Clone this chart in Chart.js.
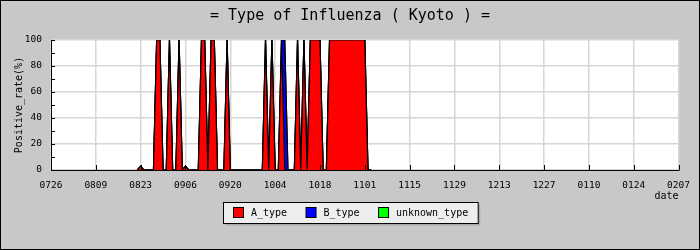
<!DOCTYPE html>
<html lang="ja">
<head>
    <meta charset="UTF-8">
    <title>Type of Influenza (Kyoto)</title>
    <script src="https://cdn.jsdelivr.net/npm/chart.js"></script>
    <style>
        body { margin: 0; background: #c8c8c8; }
        canvas { display: block; }
    </style>
</head>
<body>
    <canvas id="fluChart" width="700" height="250"></canvas>

    <script>
        // x axis tick labels (every 14 days from 0726)
        const tickLabels = ['0726', '0809', '0823', '0906', '0920', '1004', '1018', '1101',
                            '1115', '1129', '1213', '1227', '0110', '0124', '0207'];
        const axisStart = '0726';
        const firstDate = '0822';   // date of the first value below, one value per day

        // Positive rate (%) per day, from 0822 to 1103
        const aType = [
            0, 3, 0, 0, 0, 0, 100, 100, 0, 0,
            100, 0, 0, 100, 0, 3, 0, 0, 0, 0,
            100, 100, 0, 100, 100, 0, 0, 0, 100, 0,
            0, 0, 0, 0, 0, 0, 0, 0, 0, 0,
            100, 0, 100, 0, 0, 100, 0, 0, 0, 0,
            100, 0, 100, 0, 100, 100, 100, 100, 0, 0,
            100, 100, 100, 100, 100, 100, 100, 100, 100, 100,
            100, 100, 0, 0
        ];
        const bType = [
            0, 0, 0, 0, 0, 0, 0, 0, 0, 0,
            0, 0, 0, 0, 0, 0, 0, 0, 0, 0,
            0, 0, 0, 0, 0, 0, 0, 0, 0, 0,
            0, 0, 0, 0, 0, 0, 0, 0, 0, 0,
            0, 0, 0, 0, 0, 0, 100, 0, 0, 0,
            0, 0, 0, 0, 0, 0, 0, 0, 0, 0,
            0, 0, 0, 0, 0, 0, 0, 0, 0, 0,
            0, 0, 0, 0
        ];
        const unknownType = [
            0, 0, 0, 0, 0, 0, 0, 0, 0, 0,
            0, 0, 0, 0, 0, 0, 0, 0, 0, 0,
            0, 0, 0, 0, 0, 0, 0, 0, 0, 0,
            0, 0, 0, 0, 0, 0, 0, 0, 0, 0,
            0, 0, 0, 0, 0, 0, 0, 0, 0, 0,
            0, 0, 0, 0, 0, 0, 0, 0, 0, 0,
            0, 0, 0, 0, 0, 0, 0, 0, 0, 0,
            0, 0, 0, 0
        ];

        const FONT = '"DejaVu Sans Mono", monospace';

        // days between two MMDD dates (same season)
        function mmddToDate(s) {
            const m = parseInt(s.slice(0, 2), 10) - 1;
            const d = parseInt(s.slice(2), 10);
            return new Date(Date.UTC(m < 6 ? 2012 : 2011, m, d));
        }
        const offset = Math.round((mmddToDate(firstDate) - mmddToDate(axisStart)) / 864e5);
        const toPoints = arr => arr.map((v, i) => ({ x: offset + i, y: v }));

        // background, title, axis titles, inner ticks, legend box
        const decorations = {
            id: 'decorations',
            beforeDraw(chart) {
                const ctx = chart.ctx;
                ctx.save();
                ctx.fillStyle = '#c8c8c8';
                ctx.fillRect(0, 0, chart.width, chart.height);
                const a = chart.chartArea;
                ctx.fillStyle = '#ffffff';
                ctx.fillRect(a.left, a.top, a.right - a.left, a.bottom - a.top);
                ctx.restore();
            },
            afterDraw(chart) {
                const ctx = chart.ctx;
                const a = chart.chartArea;
                const x = chart.scales.x, y = chart.scales.y;
                ctx.save();

                // inner tick marks
                ctx.strokeStyle = '#000';
                ctx.lineWidth = 1;
                ctx.beginPath();
                for (let v = 0; v <= 100; v += 10) {
                    const py = Math.round(y.getPixelForValue(v)) + 0.5;
                    ctx.moveTo(a.left, py);
                    ctx.lineTo(a.left + 4, py);
                }
                for (let i = 0; i < tickLabels.length; i++) {
                    const px = Math.round(x.getPixelForValue(i * 14)) + 0.5;
                    ctx.moveTo(px, a.bottom);
                    ctx.lineTo(px, a.bottom - 5);
                }
                ctx.stroke();

                // bottom axis line over the data outline
                ctx.beginPath();
                ctx.moveTo(a.left, a.bottom + 0.5);
                ctx.lineTo(a.right, a.bottom + 0.5);
                ctx.stroke();

                // title
                ctx.fillStyle = '#000';
                ctx.font = '15px ' + FONT;
                ctx.textAlign = 'center';
                ctx.textBaseline = 'middle';
                ctx.fillText('= Type of Influenza ( Kyoto ) =', 350, 16);

                // axis titles
                ctx.font = '10px ' + FONT;
                ctx.textAlign = 'right';
                ctx.fillText('date', a.right, 196);
                ctx.save();
                ctx.translate(19, (a.top + a.bottom) / 2);
                ctx.rotate(-Math.PI / 2);
                ctx.textAlign = 'center';
                ctx.fillText('Positive_rate(%)', 0, 0);
                ctx.restore();

                // legend
                const items = chart.data.datasets.map(ds => ({ label: ds.label, color: ds.backgroundColor }));
                const sw = 10, gap = 7.4, itemGap = 19, pad = 10;
                let total = pad * 2;
                items.forEach((it, i) => {
                    it.w = ctx.measureText(it.label).width;
                    total += sw + gap + it.w + (i < items.length - 1 ? itemGap : 0);
                });
                const bx = Math.round(350 - total / 2) + 0.5, by = 202.5, bh = 21;
                ctx.fillStyle = '#a8a8a8';
                ctx.fillRect(bx + 2, by + 2, total, bh);
                ctx.fillStyle = '#eeeeee';
                ctx.fillRect(bx, by, total, bh);
                ctx.strokeRect(bx, by, total, bh);
                let cx = bx + pad;
                ctx.textAlign = 'left';
                items.forEach(it => {
                    ctx.fillStyle = it.color;
                    ctx.fillRect(cx, by + 5, sw, sw);
                    ctx.strokeStyle = '#000';
                    ctx.strokeRect(cx, by + 5, sw, sw);
                    ctx.fillStyle = '#000';
                    ctx.fillText(it.label, cx + sw + gap, by + 10.5);
                    cx += sw + gap + it.w + itemGap;
                });

                // outer frame
                ctx.strokeStyle = '#000';
                ctx.strokeRect(0.5, 0.5, chart.width - 1, chart.height - 1);
                ctx.restore();
            }
        };

        const ds = (label, data, color, fill) => ({
            label: label,
            data: toPoints(data),
            backgroundColor: color,
            borderColor: '#000000',
            borderWidth: 1.2,
            pointRadius: 0,
            tension: 0,
            fill: fill
        });

        new Chart(document.getElementById('fluChart').getContext('2d'), {
            type: 'line',
            data: {
                datasets: [
                    ds('A_type', aType, '#ff0000', 'origin'),
                    ds('B_type', bType, '#0000ff', '-1'),
                    ds('unknown_type', unknownType, '#00ff00', '-1')
                ]
            },
            options: {
                responsive: false,
                animation: false,
                layout: { padding: { left: 0, right: 20, top: 40, bottom: 0 } },
                plugins: {
                    legend: { display: false },
                    title: { display: false },
                    tooltip: { enabled: false }
                },
                scales: {
                    x: {
                        type: 'linear',
                        min: 0,
                        max: (tickLabels.length - 1) * 14,
                        afterFit: s => { s.height = 80; },
                        afterBuildTicks: s => { s.ticks = tickLabels.map((t, i) => ({ value: i * 14 })); },
                        ticks: {
                            autoSkip: false,
                            maxRotation: 0,
                            padding: 10,
                            color: '#000',
                            font: { family: FONT, size: 9.5 },
                            callback: (v) => tickLabels[Math.round(v / 14)]
                        },
                        grid: { color: '#d6d6d6', lineWidth: 1.5, drawTicks: false },
                        border: { color: '#000', width: 1 }
                    },
                    y: {
                        stacked: true,
                        min: 0,
                        max: 100,
                        afterFit: s => { s.width = 51; },
                        ticks: {
                            stepSize: 20,
                            padding: 9,
                            color: '#000',
                            font: { family: FONT, size: 9.5 }
                        },
                        grid: { color: '#d6d6d6', lineWidth: 1.5, drawTicks: false },
                        border: { color: '#000', width: 1 }
                    }
                }
            },
            plugins: [decorations]
        });
    </script>
</body>
</html>
